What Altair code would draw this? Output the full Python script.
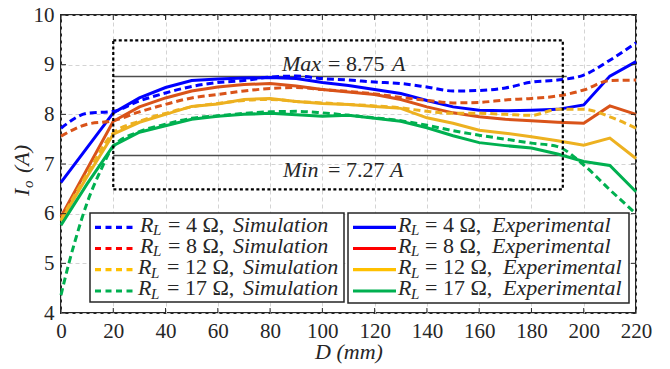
import altair as alt
import pandas as pd

# ---------------- data ----------------
D = [0, 10, 20, 30, 40, 50, 60, 70, 80, 90, 100, 110, 120, 130, 140, 150, 160, 170, 180, 190, 200, 210, 220]
D_SIM_17 = [0, 3, 5.5, 10, 15, 20, 30, 40, 50, 60, 70, 80, 90, 100, 110, 120, 130, 140, 150, 160, 170, 180, 190, 200, 210, 220]

exp_4 = [6.63, 7.33, 8.03, 8.33, 8.54, 8.68, 8.71, 8.73, 8.74, 8.72, 8.64, 8.58, 8.50, 8.42, 8.28, 8.15, 8.08, 8.07, 8.08, 8.10, 8.19, 8.77, 9.06]
exp_8 = [5.94, 6.90, 7.86, 8.15, 8.33, 8.47, 8.55, 8.60, 8.62, 8.57, 8.50, 8.45, 8.40, 8.30, 8.15, 8.03, 7.95, 7.90, 7.87, 7.84, 7.82, 8.17, 8.00]
exp_12 = [5.85, 6.75, 7.60, 7.84, 8.00, 8.16, 8.21, 8.30, 8.32, 8.26, 8.22, 8.20, 8.16, 8.12, 7.93, 7.82, 7.68, 7.62, 7.55, 7.47, 7.38, 7.52, 7.11]
exp_17 = [5.77, 6.60, 7.37, 7.64, 7.77, 7.90, 7.96, 8.00, 8.02, 7.99, 7.96, 7.98, 7.92, 7.86, 7.73, 7.57, 7.43, 7.37, 7.32, 7.20, 7.05, 6.97, 6.44]

sim_4 = [7.72, 8.02, 8.06, 8.27, 8.43, 8.56, 8.64, 8.68, 8.75, 8.77, 8.72, 8.69, 8.65, 8.62, 8.55, 8.47, 8.48, 8.53, 8.65, 8.69, 8.79, 9.09, 9.44]
sim_8 = [7.56, 7.80, 7.87, 8.05, 8.20, 8.33, 8.40, 8.47, 8.52, 8.54, 8.50, 8.46, 8.41, 8.34, 8.28, 8.23, 8.24, 8.29, 8.32, 8.37, 8.49, 8.68, 8.69]
sim_12 = [5.88, 6.80, 7.62, 7.86, 8.02, 8.15, 8.22, 8.28, 8.30, 8.26, 8.23, 8.20, 8.17, 8.13, 8.06, 8.02, 8.02, 8.00, 7.98, 8.10, 8.10, 7.95, 7.72]
sim_17 = [4.36, 5.00, 5.47, 6.22, 6.85, 7.35, 7.65, 7.80, 7.92, 7.97, 8.02, 8.05, 8.06, 8.03, 7.98, 7.93, 7.87, 7.78, 7.67, 7.58, 7.50, 7.42, 7.35, 6.98, 6.48, 6.00]

LOADS = ["4", "8", "12", "17"]
LINE_COLORS = ["#0000FF", "#D95319", "#EDB120", "#00B050"]
LEGEND_COLORS = ["#0000FF", "#FF0000", "#FFC000", "#00B050"]

X_TICKS = [0, 20, 40, 60, 80, 100, 120, 140, 160, 180, 200, 220]
Y_TICKS = [4, 5, 6, 7, 8, 9, 10]

BOX_D = [20, 192]          # dotted window
BOX_I = [6.49, 9.49]
MAX_LINE = 8.76            # "Max = 8.75 A" reference line
MIN_LINE = 7.17            # "Min = 7.27 A" reference line
LINE_D = [20, 193.5]

FONT = "Liberation Serif"
INK = "#262626"

# ---------------- tables ----------------
exp_rows, sim_rows = [], []
for load, ys in zip(LOADS, [exp_4, exp_8, exp_12, exp_17]):
    for d, v in zip(D, ys):
        exp_rows.append({"D": d, "I": v, "load": load})
for load, xs, ys in zip(LOADS, [D, D, D, D_SIM_17], [sim_4, sim_8, sim_12, sim_17]):
    for d, v in zip(xs, ys):
        sim_rows.append({"D": d, "I": v, "load": load})
exp_df = pd.DataFrame(exp_rows)
sim_df = pd.DataFrame(sim_rows)

W, H = 575, 298
xs = alt.Scale(domain=[0, 220], nice=False, zero=False)
ys = alt.Scale(domain=[4, 10], nice=False, zero=False)
x_axis = alt.Axis(values=X_TICKS, title="D (mm)", ticks=False, domain=False, labelFlush=False,
                  labelPadding=7, titlePadding=0, grid=True)
y_axis = alt.Axis(values=Y_TICKS, title=None, ticks=False, domain=False, labelFlush=False,
                  labelPadding=7, grid=True)
X = alt.X("D:Q", scale=xs, axis=x_axis)
Y = alt.Y("I:Q", scale=ys, axis=y_axis)
color = alt.Color("load:N", scale=alt.Scale(domain=LOADS, range=LINE_COLORS), legend=None)

exp_layer = alt.Chart(exp_df).mark_line(strokeWidth=3).encode(x=X, y=Y, color=color)
sim_layer = alt.Chart(sim_df).mark_line(strokeWidth=3, strokeDash=[7, 4], interpolate="monotone").encode(
    x=X, y=Y, color=color)

ref_df = pd.DataFrame({"D": [LINE_D[0]] * 2, "D2": [LINE_D[1]] * 2, "I": [MAX_LINE, MIN_LINE]})
ref_rules = alt.Chart(ref_df).mark_rule(color="#4d4d4d", strokeWidth=1.5).encode(
    x=X, x2="D2:Q", y=Y)

box_df = pd.DataFrame({"D": [BOX_D[0]], "D2": [BOX_D[1]], "I": [BOX_I[0]], "I2": [BOX_I[1]]})
box = alt.Chart(box_df).mark_rect(filled=False, stroke="black", strokeWidth=2.2, strokeDash=[3, 2.5]).encode(
    x=X, x2="D2:Q", y=Y, y2="I2:Q")

# inward ticks on all four sides
tx = pd.DataFrame({"D": X_TICKS})
ty = pd.DataFrame({"I": Y_TICKS})
tick_bottom = alt.Chart(tx).mark_rule(color=INK, strokeWidth=1).encode(x=X, y=alt.value(H), y2=alt.value(H - 5))
tick_top = alt.Chart(tx).mark_rule(color=INK, strokeWidth=1).encode(x=X, y=alt.value(0), y2=alt.value(5))
tick_left = alt.Chart(ty).mark_rule(color=INK, strokeWidth=1).encode(y=Y, x=alt.value(0), x2=alt.value(5))
tick_right = alt.Chart(ty).mark_rule(color=INK, strokeWidth=1).encode(y=Y, x=alt.value(W), x2=alt.value(W - 5))

PX = alt.X("px:Q", scale=None)
PY = alt.Y("py:Q", scale=None)


def texts(rows, size, style, angle=0, color=INK):
    df = pd.DataFrame(rows, columns=["px", "py", "t"])
    return alt.Chart(df).mark_text(font=FONT, fontSize=size, fontStyle=style, align="left",
                                   baseline="alphabetic", color=color, angle=angle).encode(
        x=PX, y=PY, text="t:N")


# Max / Min annotations
ann_ital = [(221, 56, "Max"), (331, 56, "A"), (222, 161.7, "Min"), (329, 161.7, "A")]
ann_reg = [(267, 56, "= 8.75"), (267, 161.7, "= 7.27")]

# y-axis title I_o (A)  (rotated)
ytitle_big = [(-32, 181, "I"), (-32, 158, "(A)")]
ytitle_sub = [(-28, 173, "o")]

# legend
ROW_Y = [212.3, 233.5, 254.7, 276.0]
BOXES = [(29, 198, 283, 287), (287, 198, 568, 288)]
leg_box_df = pd.DataFrame([{"px": b[0], "py": b[1], "px2": b[2], "py2": b[3]} for b in BOXES])
leg_boxes = alt.Chart(leg_box_df).mark_rect(fill="white", stroke=INK, strokeWidth=1.5).encode(
    x=PX, y=PY, x2="px2:Q", y2="py2:Q")

sym_sim = pd.DataFrame([{"px": 34, "px2": 72, "py": y, "c": c} for y, c in zip(ROW_Y, LEGEND_COLORS)])
sym_exp = pd.DataFrame([{"px": 292, "px2": 335, "py": y, "c": c} for y, c in zip(ROW_Y, LEGEND_COLORS)])
leg_sym_sim = alt.Chart(sym_sim).mark_rule(strokeWidth=3.2, strokeDash=[6, 4.5]).encode(
    x=PX, x2="px2:Q", y=PY, color=alt.Color("c:N", scale=None))
leg_sym_exp = alt.Chart(sym_exp).mark_rule(strokeWidth=3.2).encode(
    x=PX, x2="px2:Q", y=PY, color=alt.Color("c:N", scale=None))

leg_ital, leg_sub, leg_reg = [], [], []
for i, (load, y) in enumerate(zip(LOADS, ROW_Y)):
    wide = len(load) > 1
    base = y + 4.4
    # simulation box
    rx = 77 if wide else 79
    leg_ital.append((rx, base, "R"))
    leg_sub.append((rx + 13, base + 3.5, "L"))
    leg_reg.append((106 if wide else 107, base, f"= {load} \u03a9,"))
    leg_ital.append((182 if wide else 172, base, "Simulation"))
    # experimental box
    leg_ital.append((337, base, "R"))
    leg_sub.append((350, base + 3.5, "L"))
    leg_reg.append((364, base, f"= {load} \u03a9,"))
    leg_ital.append((442 if wide else 431, base, "Experimental"))

layers = [
    ref_rules, exp_layer, sim_layer, box,
    texts(ann_ital, 22, "italic"), texts(ann_reg, 22, "normal"),
    texts(ytitle_big, 22, "italic", angle=270), texts(ytitle_sub, 15, "italic", angle=270),
    leg_boxes, leg_sym_sim, leg_sym_exp,
    texts(leg_ital, 22, "italic"), texts(leg_sub, 15, "italic"), texts(leg_reg, 22, "normal"),
    tick_bottom, tick_top, tick_left, tick_right,
]

chart = alt.layer(*layers).properties(
    width=W, height=H,
    autosize=alt.AutoSizeParams(type="none"),
    padding={"left": 61, "top": 15, "right": 34, "bottom": 56},
).configure_view(
    stroke=INK, strokeWidth=2
).configure_axis(
    labelFont=FONT, labelFontSize=21, labelColor=INK,
    titleFont=FONT, titleFontSize=22, titleFontStyle="italic", titleFontWeight="normal", titleColor=INK,
    gridColor="#d4d4d4", gridDash=[4, 3], gridWidth=1,
)

chart.save("out.html", embed_options={"renderer": "svg", "actions": False})
